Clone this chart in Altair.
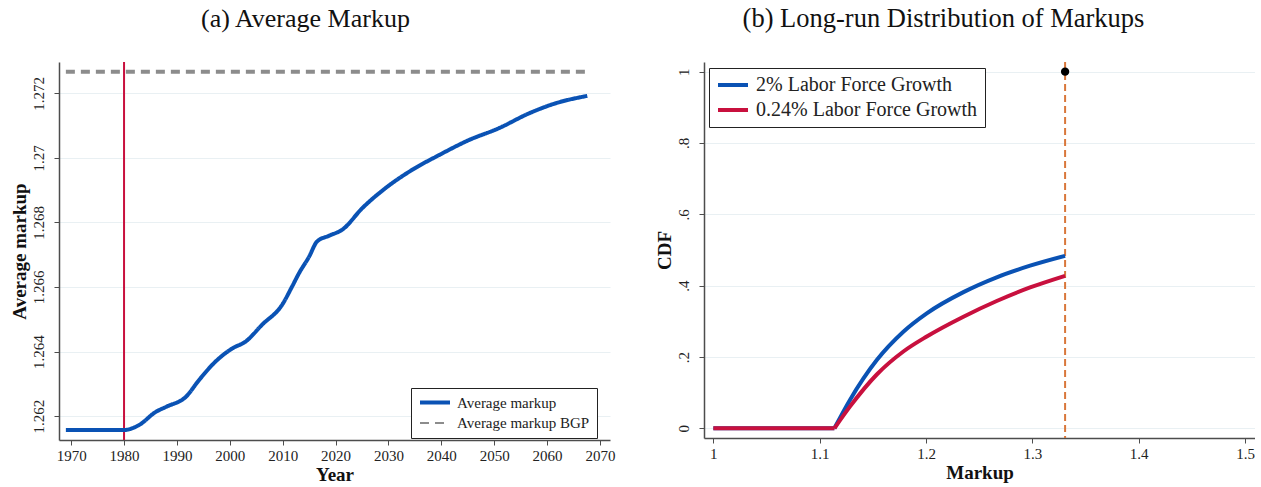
import altair as alt
import pandas as pd

# ---------- Panel (a) data ----------
years = [1969, 1980, 1982.8, 1986, 1988, 1991.7, 1994.2, 1997.3, 2000.5, 2003, 2006.1,
         2009.9, 2011.8, 2013.1, 2015, 2016.5, 2018.8, 2021.3, 2025.1, 2029.5, 2034.5,
         2039.5, 2045.2, 2050.9, 2056.6, 2061.6, 2067.6]
avg_markup = [1.26157, 1.26157, 1.26172, 1.26213, 1.26229, 1.2626, 1.26312, 1.26369, 1.2641,
              1.26431, 1.26483, 1.26545, 1.26602, 1.26643, 1.26694, 1.26741, 1.26759, 1.26778,
              1.26845, 1.26907, 1.26963, 1.27008, 1.27055, 1.27092, 1.27138, 1.27169, 1.27192]
bgp_years = [1969, 2067.6]
bgp_value = 1.27267
reform_year = 1980
series_a = ["Average markup", "Average markup BGP"]

# ---------- Panel (b) data ----------
flat_markup = [1.0, 1.1138]
curve_markup = [1.1138, 1.1286, 1.1537, 1.1787, 1.2007, 1.2352, 1.2665, 1.2979, 1.3308]
cdf_2pct = [0.0, 0.0804, 0.1915, 0.271, 0.3225, 0.382, 0.4235, 0.456, 0.4837]
cdf_024pct = [0.0, 0.0616, 0.151, 0.2155, 0.2575, 0.313, 0.357, 0.395, 0.4277]
max_markup = 1.3308
series_b = ["2% Labor Force Growth", "0.24% Labor Force Growth"]

FONT = "Liberation Serif"
GRID = "#e9f0f3"
AXIS_COL = "#4d4d4d"

df_a = pd.DataFrame(
    [{"Year": y, "v": v, "s": series_a[0]} for y, v in zip(years, avg_markup)]
    + [{"Year": y, "v": bgp_value, "s": series_a[1]} for y in bgp_years]
)
df_rule_a = pd.DataFrame({"Year": [reform_year]})

rows_b = []
for s, cdf in zip(series_b, [cdf_2pct, cdf_024pct]):
    rows_b += [{"m": m, "c": 0.0, "s": s, "seg": "flat"} for m in flat_markup]
    rows_b += [{"m": m, "c": c, "s": s, "seg": "curve"} for m, c in zip(curve_markup, cdf)]
df_b = pd.DataFrame(rows_b)
df_rule_b = pd.DataFrame({"m": [max_markup], "c": [1.0]})


def xaxis(title, values, fmt):
    return alt.Axis(title=title, values=values, format=fmt, grid=False,
                    labelFont=FONT, labelFontSize=15, labelColor="#222",
                    titleFont=FONT, titleFontSize=19, titleFontWeight="bold", titleColor="#111",
                    tickSize=5, tickColor=AXIS_COL, domainColor=AXIS_COL, domainWidth=1.5,
                    labelPadding=3, titlePadding=2)


def yaxis(title, values, expr):
    return alt.Axis(title=title, values=values, labelExpr=expr, grid=True, gridColor=GRID,
                    gridWidth=1.2, labelAngle=270,
                    labelFont=FONT, labelFontSize=15, labelColor="#222",
                    titleFont=FONT, titleFontSize=19, titleFontWeight="bold", titleColor="#111",
                    tickSize=5, tickColor=AXIS_COL, domainColor=AXIS_COL, domainWidth=1.5,
                    labelPadding=8, titlePadding=2)


# ---------- Panel (a) ----------
x_a = alt.X("Year:Q", scale=alt.Scale(domain=[1967.7, 2071.9], nice=False, zero=False),
            axis=xaxis("Year", list(range(1970, 2071, 10)), "d"))
leg_a = dict(title=None, orient="none", legendX=352, legendY=326,
             strokeColor="#222", fillColor="white", padding=7, labelLimit=0,
             symbolType="stroke", symbolSize=900, symbolStrokeWidth=4, clipHeight=15,
             labelFont=FONT, labelFontSize=15, labelColor="#222",
             rowPadding=4.5, labelOffset=5, cornerRadius=0)
lines_a = alt.Chart(df_a).mark_line(strokeWidth=4, interpolate="monotone").encode(
    x=x_a,
    y=alt.Y("v:Q", scale=alt.Scale(domain=[1.26126, 1.27297], nice=False, zero=False),
            axis=yaxis("Average markup", [1.262, 1.264, 1.266, 1.268, 1.27, 1.272],
                       "format(datum.value, '.3~f')")),
    color=alt.Color("s:N", scale=alt.Scale(domain=series_a, range=["#0a52b4", "#8c8c8c"]),
                    legend=alt.Legend(**leg_a)),
    strokeDash=alt.StrokeDash("s:N", scale=alt.Scale(domain=series_a, range=[[1, 0], [9, 6]]),
                              legend=alt.Legend(**leg_a)),
    strokeWidth=alt.StrokeWidth("s:N", scale=alt.Scale(domain=series_a, range=[4, 2]), legend=None),
)
rule_a = alt.Chart(df_rule_a).mark_rule(color="#c8103e", strokeWidth=2).encode(x="Year:Q")
panel_a = alt.layer(rule_a, lines_a).properties(
    width=551, height=378,
    title=alt.TitleParams("(a) Average Markup", font=FONT, fontSize=26, fontWeight="normal",
                          color="#111", anchor="middle", dx=-29, offset=29),
)

# ---------- Panel (b) ----------
x_b = alt.X("m:Q", scale=alt.Scale(domain=[0.9912, 1.5094], nice=False, zero=False),
            axis=xaxis("Markup", [1, 1.1, 1.2, 1.3, 1.4, 1.5], "~g"))
y_b = alt.Y("c:Q", scale=alt.Scale(domain=[-0.027, 1.027], nice=False, zero=False),
            axis=yaxis("CDF", [0, 0.2, 0.4, 0.6, 0.8, 1],
                       "datum.value == 0 ? '0' : datum.value == 1 ? '1' : '.' + round(datum.value * 10)"))
lines_b = alt.Chart(df_b).mark_line(strokeWidth=4, interpolate="monotone").encode(
    x=x_b, y=y_b,
    detail="seg:N",
    color=alt.Color("s:N", scale=alt.Scale(domain=series_b, range=["#0a52b4", "#c8103e"]),
                    legend=alt.Legend(title=None, orient="none", legendX=5, legendY=6,
                                      strokeColor="#222", fillColor="white", padding=7,
                                      labelLimit=0, clipHeight=20,
                                      symbolType="stroke", symbolSize=900, symbolStrokeWidth=4,
                                      labelFont=FONT, labelFontSize=20, labelColor="#222",
                                      rowPadding=5, labelOffset=6, cornerRadius=0)),
)
rule_b = alt.Chart(df_rule_b).mark_rule(color="#d9773b", strokeWidth=2, strokeDash=[7, 4]).encode(x="m:Q")
dot_b = alt.Chart(df_rule_b).mark_point(filled=True, color="black", size=70, opacity=1).encode(x="m:Q", y="c:Q")
panel_b = alt.layer(rule_b, lines_b, dot_b).properties(
    width=551, height=376,
    title=alt.TitleParams("(b) Long-run Distribution of Markups", font=FONT, fontSize=26.5,
                          fontWeight="normal", color="#111", anchor="middle", dx=-36, offset=29),
)

chart = alt.hconcat(panel_a, panel_b, spacing=40).resolve_scale(
    color="independent", strokeDash="independent", strokeWidth="independent",
    x="independent", y="independent",
).resolve_legend(color="independent", strokeDash="independent").properties(
    padding={"left": 10, "top": 5, "right": 0, "bottom": 0},
    background="white",
).configure_view(stroke=None)

chart.save("out.html", embed_options={"renderer": "svg", "actions": False})
